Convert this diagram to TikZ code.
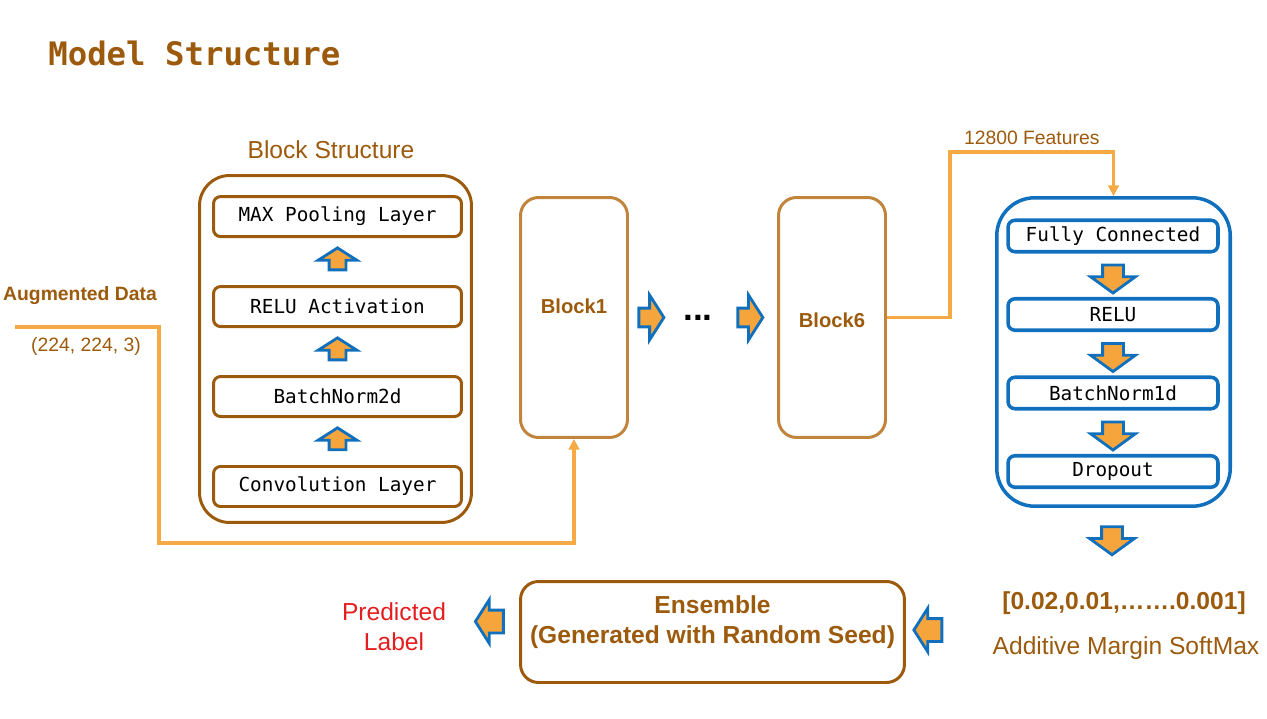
\documentclass[tikz,border=0pt]{standalone}
\usepackage{fontspec}
\setmainfont{Liberation Sans}
\setmonofont{DejaVu Sans Mono}
\usetikzlibrary{positioning, calc, shapes.arrows, arrows.meta}
\definecolor{darkbrown}{RGB}{156,90,12}
\definecolor{lightbrown}{RGB}{192,132,60}
\definecolor{lineorange}{RGB}{245,170,70}
\definecolor{arroworange}{RGB}{245,165,60}
\definecolor{arrowblue}{RGB}{16,112,190}
\definecolor{predred}{RGB}{228,30,30}

\begin{document}
\begin{tikzpicture}[x=0.02cm, y=-0.02cm,
        node distance=0.9cm and 0.4cm,
        title/.style={font=\ttfamily\bfseries\fontsize{18.4}{22}\selectfont, text=darkbrown, anchor=west, inner sep=0pt},
        caption/.style={font=\fontsize{14}{17}\selectfont, text=darkbrown, align=center},
        bigbold/.style={caption, font=\bfseries\fontsize{14}{17}\selectfont},
        smallcap/.style={font=\fontsize{11}{13}\selectfont, text=darkbrown},
        smallbold/.style={smallcap, font=\bfseries\fontsize{11}{13}\selectfont},
        container/.style={rectangle, draw=darkbrown, line width=1.7pt, rounded corners=0.6cm, minimum width=5.44cm, minimum height=6.94cm},
        layer/.style={rectangle, draw=darkbrown, line width=1.7pt, rounded corners=4pt, minimum width=4.96cm, minimum height=0.8cm, font=\ttfamily\fontsize{11}{13}\selectfont},
        blockbox/.style={rectangle, draw=lightbrown, line width=1.7pt, rounded corners=0.36cm, minimum width=2.14cm, minimum height=4.8cm},
        blocklbl/.style={font=\bfseries\fontsize{11.5}{14}\selectfont, text=darkbrown},
        mlpbox/.style={rectangle, draw=arrowblue, line width=2pt, rounded corners=0.76cm, minimum width=4.67cm, minimum height=6.17cm},
        mlplayer/.style={rectangle, draw=arrowblue, line width=2pt, rounded corners=4pt, minimum width=4.2cm, minimum height=0.63cm, font=\ttfamily\fontsize{11}{13}\selectfont},
        ensbox/.style={rectangle, draw=darkbrown, line width=1.7pt, rounded corners=0.36cm, minimum width=7.68cm, minimum height=2.02cm},
        barrow/.style={single arrow, draw=arrowblue, fill=arroworange, line width=1.6pt, inner xsep=0pt, single arrow tip angle=115},
        uparrow/.style={barrow, rotate=90, minimum height=0.44cm, inner ysep=0.14cm, single arrow head extend=0.22cm},
        rarrow/.style={barrow, minimum height=0.5cm, inner ysep=0.16cm, single arrow head extend=0.26cm},
        darrow/.style={barrow, rotate=-90, minimum height=0.56cm, inner ysep=0.18cm, single arrow head extend=0.24cm, single arrow tip angle=108},
        larrow/.style={barrow, rotate=180, minimum height=0.56cm, inner ysep=0.2cm, single arrow head extend=0.21cm},
        conn/.style={draw=lineorange, line width=2pt},
        connarrow/.style={conn, -{Triangle[length=6pt, width=6pt]}},
    ]
    \useasboundingbox (0,0) rectangle (1267,719);

    % ===== Title =====
    \node[title] (ttl) at (48,53) {Model Structure};

    % ===== Block structure =====
    \node[caption] (bsT) at (331,150) {Block Structure};
    \node[container] (bs) at (335.5,349) {};
    \node[layer] (conv) at (337.5,486.5) {Convolution Layer};
    \node[layer, above=0.94cm of conv] (bn2) {BatchNorm2d};
    \node[layer, above=0.94cm of bn2] (relu2) {RELU Activation};
    \node[layer, above=0.94cm of relu2] (pool) {MAX Pooling Layer};
    \foreach \a/\b in {conv/bn2, bn2/relu2, relu2/pool}
        \node[uparrow] (up-\a) at ($(\a.north)!0.5!(\b.south)$) {};

    % ===== Blocks =====
    \node[blockbox] (b1) at (574,317.5) {};
    \node[blocklbl] (b1T) at (574,306) {Block1};
    \node[blockbox] (b6) at (832,317.5) {};
    \node[blocklbl] (b6T) at (832,320) {Block6};
    \node[rarrow, right=0.17cm of b1] (ra1) {};
    \node[rarrow, left=0.25cm of b6] (ra2) {};
    \node[font=\bfseries\fontsize{20}{24}\selectfont, inner sep=0pt] (dots) at ($(ra1)!0.5!(ra2)$) {...};

    % ===== Input =====
    \node[smallbold] (aug) at (80,296) {Augmented Data};
    \node[smallcap] (shape) at (86,346) {(224, 224, 3)};
    \coordinate (in0) at (15,327);
    \coordinate (in1) at (159,543);
    \draw[connarrow] (in0) -| (in1) -| (b1.south);

    % ===== Classifier head =====
    \node[mlpbox] (mlp) at (1113.5,352) {};
    \node[mlplayer] (fc) at (1113,236) {Fully Connected};
    \node[mlplayer, below=0.87cm of fc] (relu1) {RELU};
    \node[mlplayer, below=0.87cm of relu1] (bn1) {BatchNorm1d};
    \node[mlplayer, below=0.87cm of bn1] (drop) {Dropout};
    \foreach \a/\b in {fc/relu1, relu1/bn1, bn1/drop}
        \node[darrow] (dn-\a) at ($(\a.south)!0.5!(\b.north)$) {};
    \node[darrow] (dnout) at (1112,537) {};

    \coordinate (fUp) at (950,152);
    \draw[connarrow] (b6.east) -| (fUp) -| node[pos=0.25, above, smallcap] (featT) {12800 Features} (mlp.north);

    % ===== Output =====
    \node[bigbold] (probs) at (1124,603) {[0.02,0.01,…….0.001]};
    \node[caption] (amsm) at (1126,648) {Additive Margin SoftMax};
    \node[larrow] (la1) at (931.5,630) {};
    \node[ensbox] (ens) at (712.5,632) {};
    \node[bigbold] (ensT) at (712.5,622) {Ensemble\\(Generated with Random Seed)};
    \node[larrow] (la2) at (493,621.5) {};
    \node[caption, text=predred] (pred) at (394,626.5) {Predicted\\Label};

\end{tikzpicture}
\end{document}
